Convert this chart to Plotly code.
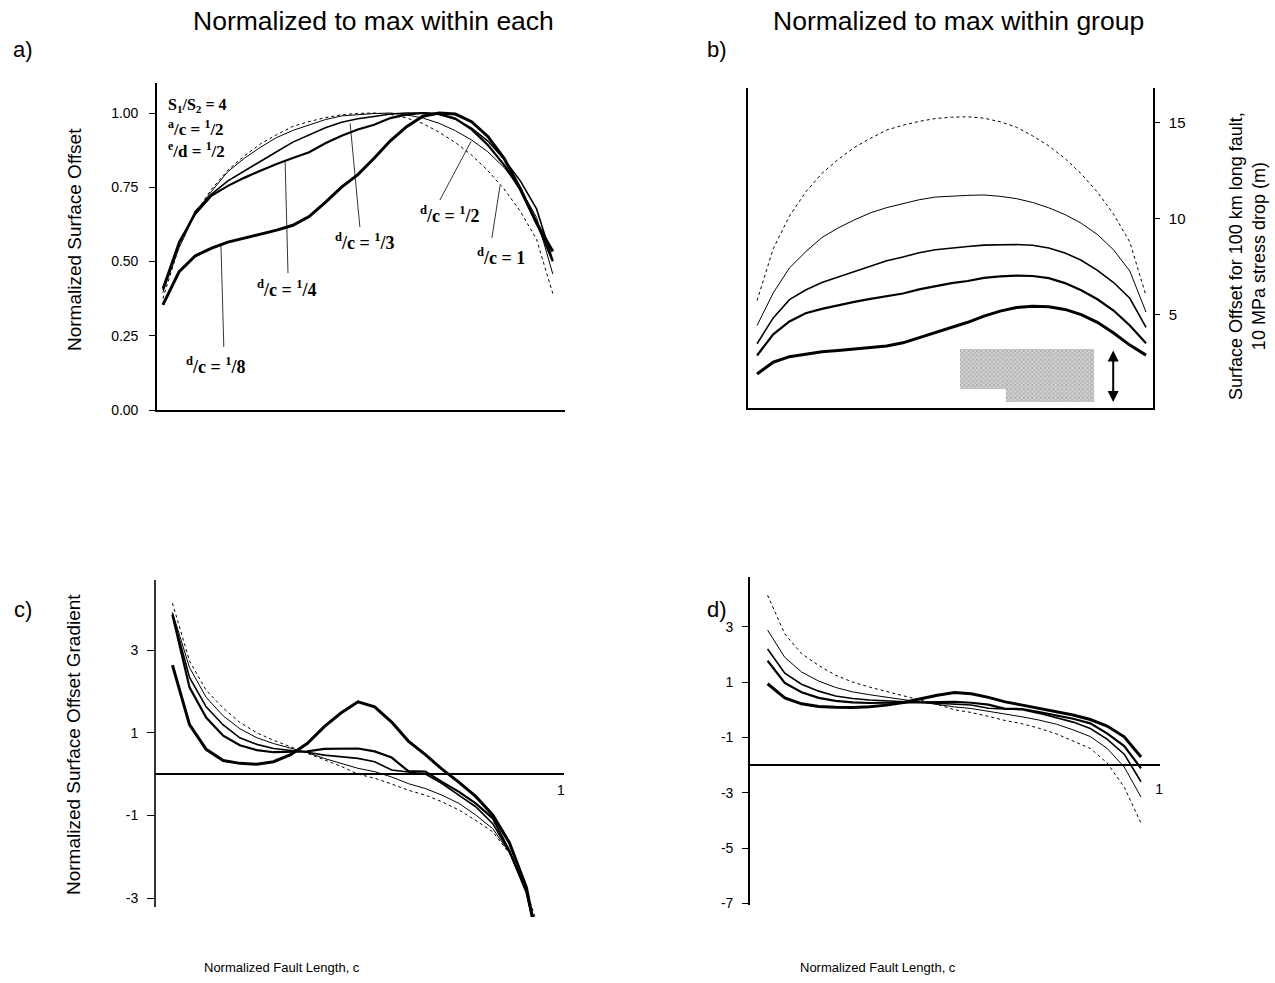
import plotly.graph_objects as go

# ---------------------------------------------------------------------------
# Surface offset along the fault (m, 100 km fault, 10 MPa stress drop)
# ---------------------------------------------------------------------------
x_offset = [0.025, 0.065, 0.105, 0.145, 0.185, 0.225, 0.265, 0.305, 0.345,
            0.385, 0.425, 0.465, 0.505, 0.545, 0.585, 0.625, 0.665, 0.705,
            0.745, 0.785, 0.825, 0.865, 0.905, 0.945, 0.985]

offset_dc1 = [5.75, 8.45, 10.15, 11.4, 12.37, 13.1, 13.72, 14.2, 14.63, 14.88,
              15.08, 15.23, 15.3, 15.32, 15.25, 15.06, 14.78, 14.33, 13.8,
              13.15, 12.35, 11.4, 10.25, 8.8, 6.0]
offset_dc2 = [4.45, 6.15, 7.45, 8.29, 9.03, 9.53, 9.95, 10.32, 10.59, 10.8,
              11.0, 11.14, 11.19, 11.23, 11.25, 11.18, 11.06, 10.86, 10.58,
              10.23, 9.78, 9.19, 8.39, 7.29, 5.15]
offset_dc3 = [3.5, 4.85, 5.8, 6.3, 6.69, 6.98, 7.26, 7.54, 7.82, 8.02, 8.24,
              8.4, 8.5, 8.57, 8.64, 8.67, 8.67, 8.63, 8.49, 8.23, 7.85, 7.32,
              6.69, 5.87, 4.36]
offset_dc4 = [2.89, 3.99, 4.66, 5.09, 5.32, 5.51, 5.68, 5.84, 5.98, 6.12, 6.33,
              6.51, 6.66, 6.77, 6.93, 7.01, 7.05, 7.03, 6.92, 6.66, 6.29, 5.82,
              5.23, 4.45, 3.53]
offset_dc8 = [1.93, 2.54, 2.83, 2.97, 3.08, 3.15, 3.22, 3.3, 3.39, 3.55, 3.81,
              4.09, 4.32, 4.62, 4.94, 5.2, 5.39, 5.45, 5.43, 5.29, 5.02, 4.62,
              4.06, 3.43, 2.91]

# ---------------------------------------------------------------------------
# Surface offset gradient, each curve normalized to its own maximum offset
# ---------------------------------------------------------------------------
x_gradient = [0.043, 0.085, 0.126, 0.168, 0.209, 0.251, 0.292, 0.334, 0.375,
              0.417, 0.458, 0.500, 0.541, 0.583, 0.624, 0.666, 0.707, 0.749,
              0.790, 0.832, 0.873, 0.915, 0.956]

grad_dc1 = [4.14, 2.74, 2.03, 1.6, 1.25, 1.0, 0.82, 0.66, 0.5, 0.34, 0.19, 0.0,
            -0.1, -0.24, -0.39, -0.51, -0.67, -0.87, -1.12, -1.4, -1.92, -2.8,
            -4.1]
grad_dc2 = [3.92, 2.58, 1.86, 1.41, 1.1, 0.88, 0.74, 0.62, 0.52, 0.38, 0.26,
            0.14, 0.06, -0.07, -0.23, -0.35, -0.51, -0.71, -0.99, -1.32, -1.9,
            -2.82, -4.3]
grad_dc3 = [3.88, 2.34, 1.63, 1.19, 0.88, 0.72, 0.62, 0.57, 0.53, 0.46, 0.42,
            0.38, 0.3, 0.1, 0.05, 0.0, -0.23, -0.51, -0.79, -1.2, -1.88, -2.84,
            -4.6]
grad_dc4 = [3.85, 2.1, 1.37, 0.93, 0.7, 0.58, 0.53, 0.54, 0.55, 0.61, 0.62,
            0.62, 0.55, 0.4, 0.07, 0.06, -0.19, -0.43, -0.71, -1.07, -1.86,
            -2.86, -4.6]
grad_dc8 = [2.64, 1.2, 0.6, 0.33, 0.26, 0.24, 0.3, 0.47, 0.74, 1.15, 1.48, 1.75,
            1.63, 1.26, 0.8, 0.47, 0.12, -0.2, -0.54, -0.99, -1.66, -2.75, -4.8]

ratio_names = ["1", "1/2", "1/3", "1/4", "1/8"]
offset_ticks = [5, 10, 15]
norm_ticks = [0.0, 0.25, 0.5, 0.75, 1.0]
grad_ticks_c = [3, 1, -1, -3]
grad_ticks_d = [3, 1, -1, -3, -5, -7]

# ---------------------------------------------------------------------------
W, H = 1275, 983
# effective drawing area used to place elements by pixel position
W_EFF, H_EFF = 1272, 975
BLACK = "#000000"
SANS = "Liberation Sans, Arial, sans-serif"
SERIF = "Liberation Serif, Times New Roman, serif"


def px(x):
    return x / W_EFF


def py(y):
    return 1 - y / H_EFF


def tick_text(vals, fmt="%g"):
    # plain hyphen-minus for negative labels
    return [(fmt % v).replace("\u2212", "-") for v in vals]


offsets = [offset_dc1, offset_dc2, offset_dc3, offset_dc4, offset_dc8]
grads = [grad_dc1, grad_dc2, grad_dc3, grad_dc4, grad_dc8]
widths = [1.0, 1.0, 1.6, 2.2, 3.0]
dashes = ["3px,3px", "solid", "solid", "solid", "solid"]
group_max = max(offset_dc1)

fig = go.Figure()

for off, grd, w, dsh, name in zip(offsets, grads, widths, dashes, ratio_names):
    line = dict(color=BLACK, width=w, dash=dsh)
    own_max = max(off)
    # a) normalized to the maximum of each curve
    fig.add_trace(go.Scatter(x=x_offset, y=[v / own_max for v in off],
                             mode="lines", line=line, name="d/c = " + name,
                             xaxis="x", yaxis="y", hoverinfo="skip"))
    # b) absolute offsets
    fig.add_trace(go.Scatter(x=x_offset, y=off, mode="lines", line=line,
                             name="d/c = " + name, xaxis="x2", yaxis="y2",
                             hoverinfo="skip"))
    # c) gradient normalized within each
    fig.add_trace(go.Scatter(x=x_gradient, y=grd, mode="lines", line=line,
                             name="d/c = " + name, xaxis="x3", yaxis="y3",
                             hoverinfo="skip"))
    # d) gradient normalized within the group
    scale = own_max / group_max
    fig.add_trace(go.Scatter(x=x_gradient, y=[g * scale for g in grd],
                             mode="lines", line=line, name="d/c = " + name,
                             xaxis="x4", yaxis="y4", hoverinfo="skip"))

# stippled box in panel b
fig.add_trace(go.Scatter(
    x=[0.526, 0.857, 0.857, 0.639, 0.639, 0.526, 0.526],
    y=[3.23, 3.23, 0.47, 0.47, 1.15, 1.15, 3.23],
    mode="lines", fill="toself", line=dict(width=0, color="rgba(0,0,0,0)"),
    fillcolor="#c4c4c4",
    fillpattern=dict(shape="x", size=3, solidity=0.45, fgcolor="#7a7a7a",
                     bgcolor="#d2d2d2"),
    xaxis="x2", yaxis="y2", hoverinfo="skip"))

# ---------------------------------------------------------------------------
# axes
# ---------------------------------------------------------------------------
axis_common = dict(showgrid=False, zeroline=False, linecolor=BLACK,
                   tickcolor=BLACK, tickfont=dict(family=SANS, size=15,
                                                  color=BLACK))

a_dom_y = [py(410), py(83)]
b_dom_y = [py(408), py(88)]
c_dom_y = [py(917), py(580)]
d_dom_y = [py(905), py(577)]
c_range = [-3.46, 4.70]
d_range = [-7.06, 4.80]


def level(dom, rng, v):
    return dom[0] + (v - rng[0]) / (rng[1] - rng[0]) * (dom[1] - dom[0])


fig.update_layout(
    xaxis=dict(axis_common, domain=[px(157), px(565)], range=[0.0105, 1.015],
               showline=True, linewidth=1.6, ticks="", showticklabels=False,
               anchor="y"),
    yaxis=dict(axis_common, domain=a_dom_y, range=[0, 1.101],
               tickvals=norm_ticks, ticktext=tick_text(norm_ticks, "%.2f"),
               ticks="outside", ticklen=6, tickwidth=1, showline=True,
               linewidth=1.6, anchor="x", ticklabelstandoff=8,
               tickfont=dict(family=SANS, size=14, color=BLACK)),
    xaxis2=dict(axis_common, domain=[px(748), px(1153)], range=[0.0027, 1.0022],
                showline=True, linewidth=1.6, ticks="", showticklabels=False,
                anchor="y2"),
    yaxis2=dict(axis_common, domain=b_dom_y, range=[0.156, 16.82],
                side="right", mirror=True, tickvals=offset_ticks,
                ticktext=tick_text(offset_ticks),
                ticks="outside", ticklen=5, tickwidth=1, showline=True,
                linewidth=1.6, anchor="x2", ticklabelstandoff=6),
    xaxis3=dict(axis_common, domain=[px(155), px(564)], range=[0, 1.0075],
                anchor="free", position=level(c_dom_y, c_range, 0),
                showline=True, linewidth=2, ticks="", tickvals=[1],
                ticktext=["1"], ticklabelstandoff=3,
                tickfont=dict(family=SANS, size=14, color=BLACK)),
    yaxis3=dict(axis_common, domain=c_dom_y, range=c_range,
                tickvals=grad_ticks_c, ticktext=tick_text(grad_ticks_c),
                ticks="outside", ticklen=7, tickwidth=1,
                showline=False, anchor="x3", ticklabelstandoff=6,
                tickfont=dict(family=SANS, size=14, color=BLACK)),
    xaxis4=dict(axis_common, domain=[px(750), px(1160)], range=[0, 1.0024],
                anchor="free", position=level(d_dom_y, d_range, -2),
                showline=True, linewidth=2, ticks="", tickvals=[1],
                ticktext=["1"], ticklabelstandoff=11,
                tickfont=dict(family=SANS, size=14, color=BLACK)),
    yaxis4=dict(axis_common, domain=d_dom_y, range=d_range,
                tickvals=grad_ticks_d, ticktext=tick_text(grad_ticks_d),
                ticks="outside", ticklen=6, tickwidth=1,
                showline=True, linewidth=1.6, anchor="x4", ticklabelstandoff=6,
                tickfont=dict(family=SANS, size=14, color=BLACK)),
)

# left axis line of panel c stops a little above the clipped curves
shapes = [dict(type="line", xref="paper", yref="paper", x0=px(155), x1=px(155),
               y0=py(907), y1=py(580), line=dict(color=BLACK, width=1.6))]

# leader lines for the d/c labels in panel a
leaders = [((0.510, 0.616), (0.486, 0.965)),
           ((0.333, 0.461), (0.326, 0.835)),
           ((0.175, 0.212), (0.168, 0.553)),
           ((0.707, 0.707), (0.784, 0.905)),
           ((0.835, 0.579), (0.855, 0.755))]
for (x0, y0), (x1, y1) in leaders:
    shapes.append(dict(type="line", xref="x", yref="y", x0=x0, y0=y0, x1=x1,
                       y1=y1, line=dict(color=BLACK, width=0.8)))

annotations = []


def note(text, x, y, size, family=SANS, angle=0, xanchor="center", bold=False):
    annotations.append(dict(text=("<b>%s</b>" % text) if bold else text,
                            x=px(x), y=py(y), xref="paper", yref="paper",
                            showarrow=False, textangle=angle, xanchor=xanchor,
                            yanchor="middle",
                            font=dict(family=family, size=size, color=BLACK)))


note("Normalized to max within each", 373, 21, 26.5)
note("Normalized to max within group", 958, 21, 26.5)
note("a)", 23, 49, 22)
note("b)", 717, 49, 22)
note("c)", 23, 609, 22)
note("d)", 717, 609, 22)
note("Normalized Surface Offset", 74, 240, 19, angle=-90)
note("Normalized Surface Offset Gradient", 73, 745, 19, angle=-90)
note("Surface Offset for 100 km long fault,<br>10 MPa stress drop (m)",
     1247, 256, 18, angle=-90)
note("Normalized Fault Length, c", 282, 967, 13)
note("Normalized Fault Length, c", 878, 967, 13)

# parameter block and curve labels (panel a)
note("S<sub>1</sub>/S<sub>2</sub> = 4", 166, 105, 16, SERIF, xanchor="left",
     bold=True)
note("<sup>a</sup>/c = <sup>1</sup>/2", 166, 128, 17, SERIF, xanchor="left",
     bold=True)
note("<sup>e</sup>/d = <sup>1</sup>/2", 166, 150, 17, SERIF, xanchor="left",
     bold=True)
label_pos = {"1/3": (365, 242), "1/4": (287, 288), "1/8": (216, 365),
             "1/2": (450, 214), "1": (501, 256)}
for name in ratio_names:
    num = name.split("/")
    txt = "<sup>d</sup>/c = " + ("<sup>1</sup>/%s" % num[1] if len(num) == 2
                                 else "1")
    note(txt, label_pos[name][0], label_pos[name][1], 18, SERIF, bold=True)

# double-headed arrow beside the stippled box (panel b)
annotations.append(dict(x=0.904, y=0.47, ax=0.904, ay=3.23, xref="x2",
                        yref="y2", axref="x2", ayref="y2", showarrow=True,
                        arrowhead=2, startarrowhead=2, arrowside="end+start",
                        arrowsize=1.1, startarrowsize=1.1, arrowwidth=2,
                        arrowcolor=BLACK, text=""))

fig.update_layout(width=W, height=H, margin=dict(l=0, r=0, t=0, b=0),
                  paper_bgcolor="white", plot_bgcolor="white",
                  showlegend=False, shapes=shapes, annotations=annotations)

fig.write_html("out.html")
